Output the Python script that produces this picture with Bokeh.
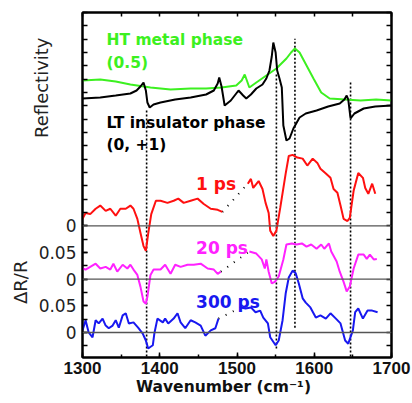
import numpy as np
from bokeh.plotting import figure
from bokeh.models import Range1d, LinearAxis, FixedTicker, Span, ColumnDataSource
from bokeh.core.properties import value
from bokeh.embed import file_html
from bokeh.resources import INLINE

# ---------------- data ----------------
# Reflectivity (arbitrary units), drawn with scale/offset into the upper panel
ht_w = [1300, 1323, 1343, 1362, 1388, 1414, 1440, 1460, 1480, 1499, 1506, 1510, 1516, 1525,
        1538, 1551, 1564, 1570, 1575, 1581, 1590, 1599, 1609, 1620, 1640, 1660, 1680, 1700]
ht_r = [12.0, 12.1, 11.9, 11.6, 11.3, 11.1, 11.2, 11.2, 11.3, 11.5, 12.0, 12.6, 11.3, 11.8,
        12.5, 13.2, 14.2, 14.8, 15.2, 14.8, 13.5, 12.2, 10.8, 10.2, 10.1, 10.0, 10.1, 10.0]

lt_w = [1300, 1323, 1343, 1362, 1370, 1375, 1379, 1382, 1384, 1387, 1392, 1401, 1420, 1440,
        1460, 1470, 1475, 1477, 1480, 1484, 1492, 1502, 1508, 1512, 1518, 1525, 1533, 1538,
        1542, 1545, 1547, 1550, 1552, 1555, 1558, 1560, 1564, 1568, 1573, 1581, 1589, 1603,
        1618, 1633, 1639, 1642, 1644, 1647, 1650, 1652, 1664, 1679, 1700]
lt_r = [10.2, 10.3, 10.5, 10.7, 11.0, 11.4, 11.8, 11.0, 9.8, 9.3, 9.6, 9.8, 10.1, 10.3,
        10.6, 11.0, 11.7, 12.3, 11.4, 9.5, 10.0, 11.0, 10.5, 10.2, 10.6, 11.2, 11.6, 12.2,
        13.0, 14.4, 15.8, 14.8, 13.0, 12.2, 11.3, 7.5, 6.0, 6.2, 7.2, 8.3, 8.7, 9.0,
        9.4, 9.7, 10.1, 10.5, 10.1, 8.2, 8.5, 8.7, 9.2, 9.4, 9.5]

# Delta R / R, 1 ps (two segments, gap 1481-1514)
ps1_w_a = [1300, 1304, 1310, 1317, 1323, 1330, 1336, 1343, 1349, 1356, 1362, 1366, 1371, 1375,
           1379, 1382, 1385, 1389, 1395, 1401, 1410, 1418, 1424, 1431, 1440, 1449, 1457, 1466,
           1475, 1481]
ps1_v_a = [0.013, 0.024, 0.022, 0.032, 0.038, 0.028, 0.032, 0.019, 0.032, 0.032, 0.038, 0.032,
           0.013, -0.013, -0.038, -0.047, -0.015, 0.022, 0.047, 0.047, 0.043, 0.047, 0.051,
           0.043, 0.047, 0.051, 0.041, 0.032, 0.030, 0.026]
ps1_w_b = [1514, 1518, 1521, 1528, 1533, 1537, 1541, 1543, 1547, 1551, 1556, 1563, 1567, 1572,
           1578, 1585, 1591, 1598, 1604, 1608, 1615, 1621, 1625, 1630, 1634, 1638, 1643, 1646,
           1651, 1657, 1663, 1666, 1670, 1675, 1679]
ps1_v_b = [0.079, 0.088, 0.071, 0.084, 0.069, 0.043, 0.024, -0.009, -0.019, -0.009, 0.034,
           0.098, 0.131, 0.133, 0.128, 0.126, 0.113, 0.126, 0.118, 0.107, 0.098, 0.090, 0.069,
           0.062, 0.038, 0.013, 0.009, 0.015, 0.066, 0.099, 0.090, 0.071, 0.060, 0.079, 0.060]

# 20 ps
ps20_w_a = [1300, 1304, 1310, 1317, 1323, 1330, 1336, 1340, 1345, 1352, 1358, 1362, 1366, 1371,
            1375, 1379, 1382, 1384, 1388, 1392, 1401, 1407, 1414, 1420, 1427, 1436, 1444, 1453,
            1462, 1470, 1475, 1479]
ps20_v_a = [0.020, 0.018, 0.023, 0.029, 0.020, 0.023, 0.018, 0.029, 0.014, 0.027, 0.020, 0.027,
            0.018, 0.008, -0.014, -0.042, -0.046, -0.033, 0.008, 0.018, 0.018, 0.027, 0.010,
            0.027, 0.023, 0.027, 0.027, 0.029, 0.020, 0.018, 0.010, 0.014]
ps20_w_b = [1516, 1525, 1532, 1536, 1538, 1541, 1545, 1549, 1554, 1560, 1564, 1571, 1577, 1584,
            1590, 1596, 1603, 1609, 1613, 1619, 1622, 1629, 1633, 1638, 1642, 1646, 1651, 1657,
            1664, 1668, 1672, 1677, 1681]
ps20_v_b = [0.052, 0.048, 0.037, 0.020, 0.037, 0.014, -0.008, -0.005, 0.005, 0.037, 0.065,
            0.067, 0.065, 0.067, 0.061, 0.065, 0.057, 0.065, 0.057, 0.067, 0.052, 0.033, 0.014,
            -0.005, -0.023, -0.014, 0.020, 0.046, 0.046, 0.038, 0.046, 0.037, 0.038]

# 300 ps
ps300_w_a = [1300, 1304, 1308, 1313, 1317, 1321, 1326, 1330, 1334, 1339, 1343, 1347, 1352, 1356,
             1360, 1366, 1372, 1378, 1382, 1385, 1391, 1393, 1397, 1404, 1407, 1411, 1418, 1423,
             1427, 1433, 1440, 1446, 1453, 1459, 1466, 1472, 1476]
ps300_v_a = [0.004, 0.023, 0.000, -0.009, 0.023, 0.017, 0.026, 0.013, 0.008, 0.013, 0.023,
             0.009, 0.032, 0.036, 0.017, 0.019, 0.009, -0.002, -0.015, -0.030, -0.024, -0.002,
             0.026, 0.019, 0.026, 0.017, 0.026, 0.036, 0.019, 0.008, 0.023, 0.019, 0.013,
             -0.006, 0.004, 0.008, 0.026]
ps300_w_b = [1505, 1511, 1518, 1524, 1530, 1534, 1540, 1543, 1550, 1554, 1559, 1563, 1567, 1572,
             1576, 1580, 1585, 1589, 1595, 1602, 1608, 1615, 1621, 1628, 1634, 1640, 1644, 1650,
             1653, 1657, 1663, 1669, 1675, 1682]
ps300_v_b = [0.047, 0.045, 0.047, 0.038, 0.041, 0.028, 0.017, -0.009, -0.024, -0.015, 0.023,
             0.073, 0.103, 0.116, 0.111, 0.092, 0.064, 0.056, 0.047, 0.028, 0.032, 0.026, 0.036,
             0.026, 0.017, -0.015, -0.021, 0.004, 0.038, 0.045, 0.026, 0.041, 0.041, 0.038]

offsets = {"1 ps": 0.2, "20 ps": 0.1, "300 ps": 0.0}
refl_scale, refl_offset = 0.01875, 0.2475

# marker lines (wavenumber, top, bottom in plot units)
mark_w = [1383, 1551, 1575, 1647]
mark_top = [0.42, 0.4875, 0.551, 0.4706]
mark_bot = [-0.06, -0.03, 0.009, -0.06]

X_MIN, X_MAX = 1300, 1700
Y_MIN, Y_MAX = -0.0469, 0.6
x_ticks = [1300, 1400, 1500, 1600, 1700]
x_minor = list(range(1300, 1701, 50))
y_minor = [round(-0.025 + 0.025 * i, 4) for i in range(26)]
y_tick_pos = [0.0, 0.05, 0.1, 0.15, 0.2]
y_tick_txt = ["0", "0.05", "0", "0.05", "0"]

GREEN = "#3cf020"
RED = "#ff1010"
MAG = "#ff22ff"
BLUE = "#1818f0"
NBSP = "\u00a0"

# ---------------- figure ----------------
p = figure(width=412, height=403, output_backend="svg", toolbar_location=None,
           x_range=Range1d(X_MIN, X_MAX), y_range=Range1d(Y_MIN, Y_MAX),
           min_border_left=82, min_border_right=21, min_border_top=12, min_border_bottom=46)
p.grid.visible = False
p.outline_line_color = "black"
p.outline_line_width = 2
p.background_fill_color = "white"

xa = p.xaxis[0]
xa.ticker = FixedTicker(ticks=x_ticks, minor_ticks=x_minor)
xa.major_tick_in, xa.major_tick_out = 5, 0
xa.minor_tick_in, xa.minor_tick_out = 3, 0
xa.axis_line_width = 2
xa.major_tick_line_width = 1.5
xa.minor_tick_line_width = 1.5
xa.major_label_text_font = "Liberation Sans"
xa.major_label_text_font_style = "bold"
xa.major_label_text_font_size = "17px"
xa.major_label_text_color = "#111111"
xa.major_label_standoff = 4
xa.axis_label = "Wavenumber (cm⁻¹)" + NBSP * 5
xa.axis_label_text_font = "DejaVu Sans"
xa.axis_label_text_font_style = "bold"
xa.axis_label_text_font_size = "15.5px"
xa.axis_label_text_color = "#111111"
xa.axis_label_standoff = 1

ya = p.yaxis[0]
ya.ticker = FixedTicker(ticks=y_tick_pos, minor_ticks=y_minor)
ya.major_label_overrides = {v: t for v, t in zip(y_tick_pos, y_tick_txt)}
ya.major_tick_in, ya.major_tick_out = 5, 0
ya.minor_tick_in, ya.minor_tick_out = 5, 0
ya.axis_line_width = 2
ya.major_tick_line_width = 1.5
ya.minor_tick_line_width = 1.5
ya.major_label_text_font = "DejaVu Sans"
ya.major_label_text_font_size = "17px"
ya.major_label_text_color = "#222222"
ya.major_label_standoff = 6

def title_axis(text, standoff):
    ax = LinearAxis(ticker=FixedTicker(ticks=[], minor_ticks=[]),
                    axis_label=text, axis_label_standoff=standoff,
                    axis_line_color=None, major_tick_line_color=None,
                    minor_tick_line_color=None, major_label_standoff=0,
                    major_tick_in=0, major_tick_out=0, minor_tick_in=0, minor_tick_out=0,
                    axis_label_text_font="DejaVu Sans", axis_label_text_font_size="18px",
                    axis_label_text_font_style="normal", axis_label_text_color="#222222")
    p.add_layout(ax, "left")

# vertical titles: padded with no-break spaces to sit in the upper / lower part
title_axis(NBSP * 34 + "Reflectivity", -16)
title_axis("ΔR/R" + NBSP * 34, -3)

# right and top edges: inward ticks only
ra = LinearAxis(ticker=FixedTicker(ticks=[], minor_ticks=y_minor), major_label_standoff=0,
                major_tick_in=0, major_tick_out=0, minor_tick_in=5, minor_tick_out=0,
                axis_line_width=2, minor_tick_line_width=1.5)
p.add_layout(ra, "right")
ta = LinearAxis(ticker=FixedTicker(ticks=[], minor_ticks=x_minor), major_label_standoff=0,
                major_tick_in=0, major_tick_out=0, minor_tick_in=4, minor_tick_out=0,
                axis_line_width=2, minor_tick_line_width=1.5)
p.add_layout(ta, "above")

# zero lines
for off in offsets.values():
    p.add_layout(Span(location=off, dimension="width", line_color="#555555", line_width=1.3))

# marker dotted lines
p.segment(x0=mark_w, y0=mark_bot, x1=mark_w, y1=mark_top, line_color="black",
          line_width=1.6, line_dash="2 2")

# reflectivity
p.line(ht_w, [refl_offset + refl_scale * r for r in ht_r], line_color=GREEN, line_width=2)
p.line(lt_w, [refl_offset + refl_scale * r for r in lt_r], line_color="black", line_width=2)

# transient traces
traces = [("1 ps", ps1_w_a, ps1_v_a, ps1_w_b, ps1_v_b, RED),
          ("20 ps", ps20_w_a, ps20_v_a, ps20_w_b, ps20_v_b, MAG),
          ("300 ps", ps300_w_a, ps300_v_a, ps300_w_b, ps300_v_b, BLUE)]
for name, wa, va, wb, vb, col in traces:
    off = offsets[name]
    p.line([wa[-1], wb[0]], [va[-1] + off, vb[0] + off], line_color="black",
           line_width=2, line_dash="1 7")
    p.line(wa, [v + off for v in va], line_color=col, line_width=2)
    p.line(wb, [v + off for v in vb], line_color=col, line_width=2)

# text annotations
ann = ColumnDataSource(dict(
    x=[1331, 1331, 1331, 1331, 1447, 1447, 1447],
    y=[0.549, 0.506, 0.392, 0.351, 0.279, 0.1575, 0.058],
    t=["HT metal phase", "(0.5)", "LT insulator phase", "(0, +1)", "1 ps", "20 ps", "300 ps"],
    c=[GREEN, GREEN, "black", "black", RED, MAG, BLUE],
    s=["15.5px", "15.5px", "15.5px", "15.5px", "17px", "17px", "17px"],
))
p.text(x="x", y="y", text="t", text_color="c", text_font_size="s", source=ann,
       text_font=value("DejaVu Sans"), text_font_style="bold",
       text_align="left", text_baseline="middle")

open("out.html", "w").write(file_html(p, INLINE))
